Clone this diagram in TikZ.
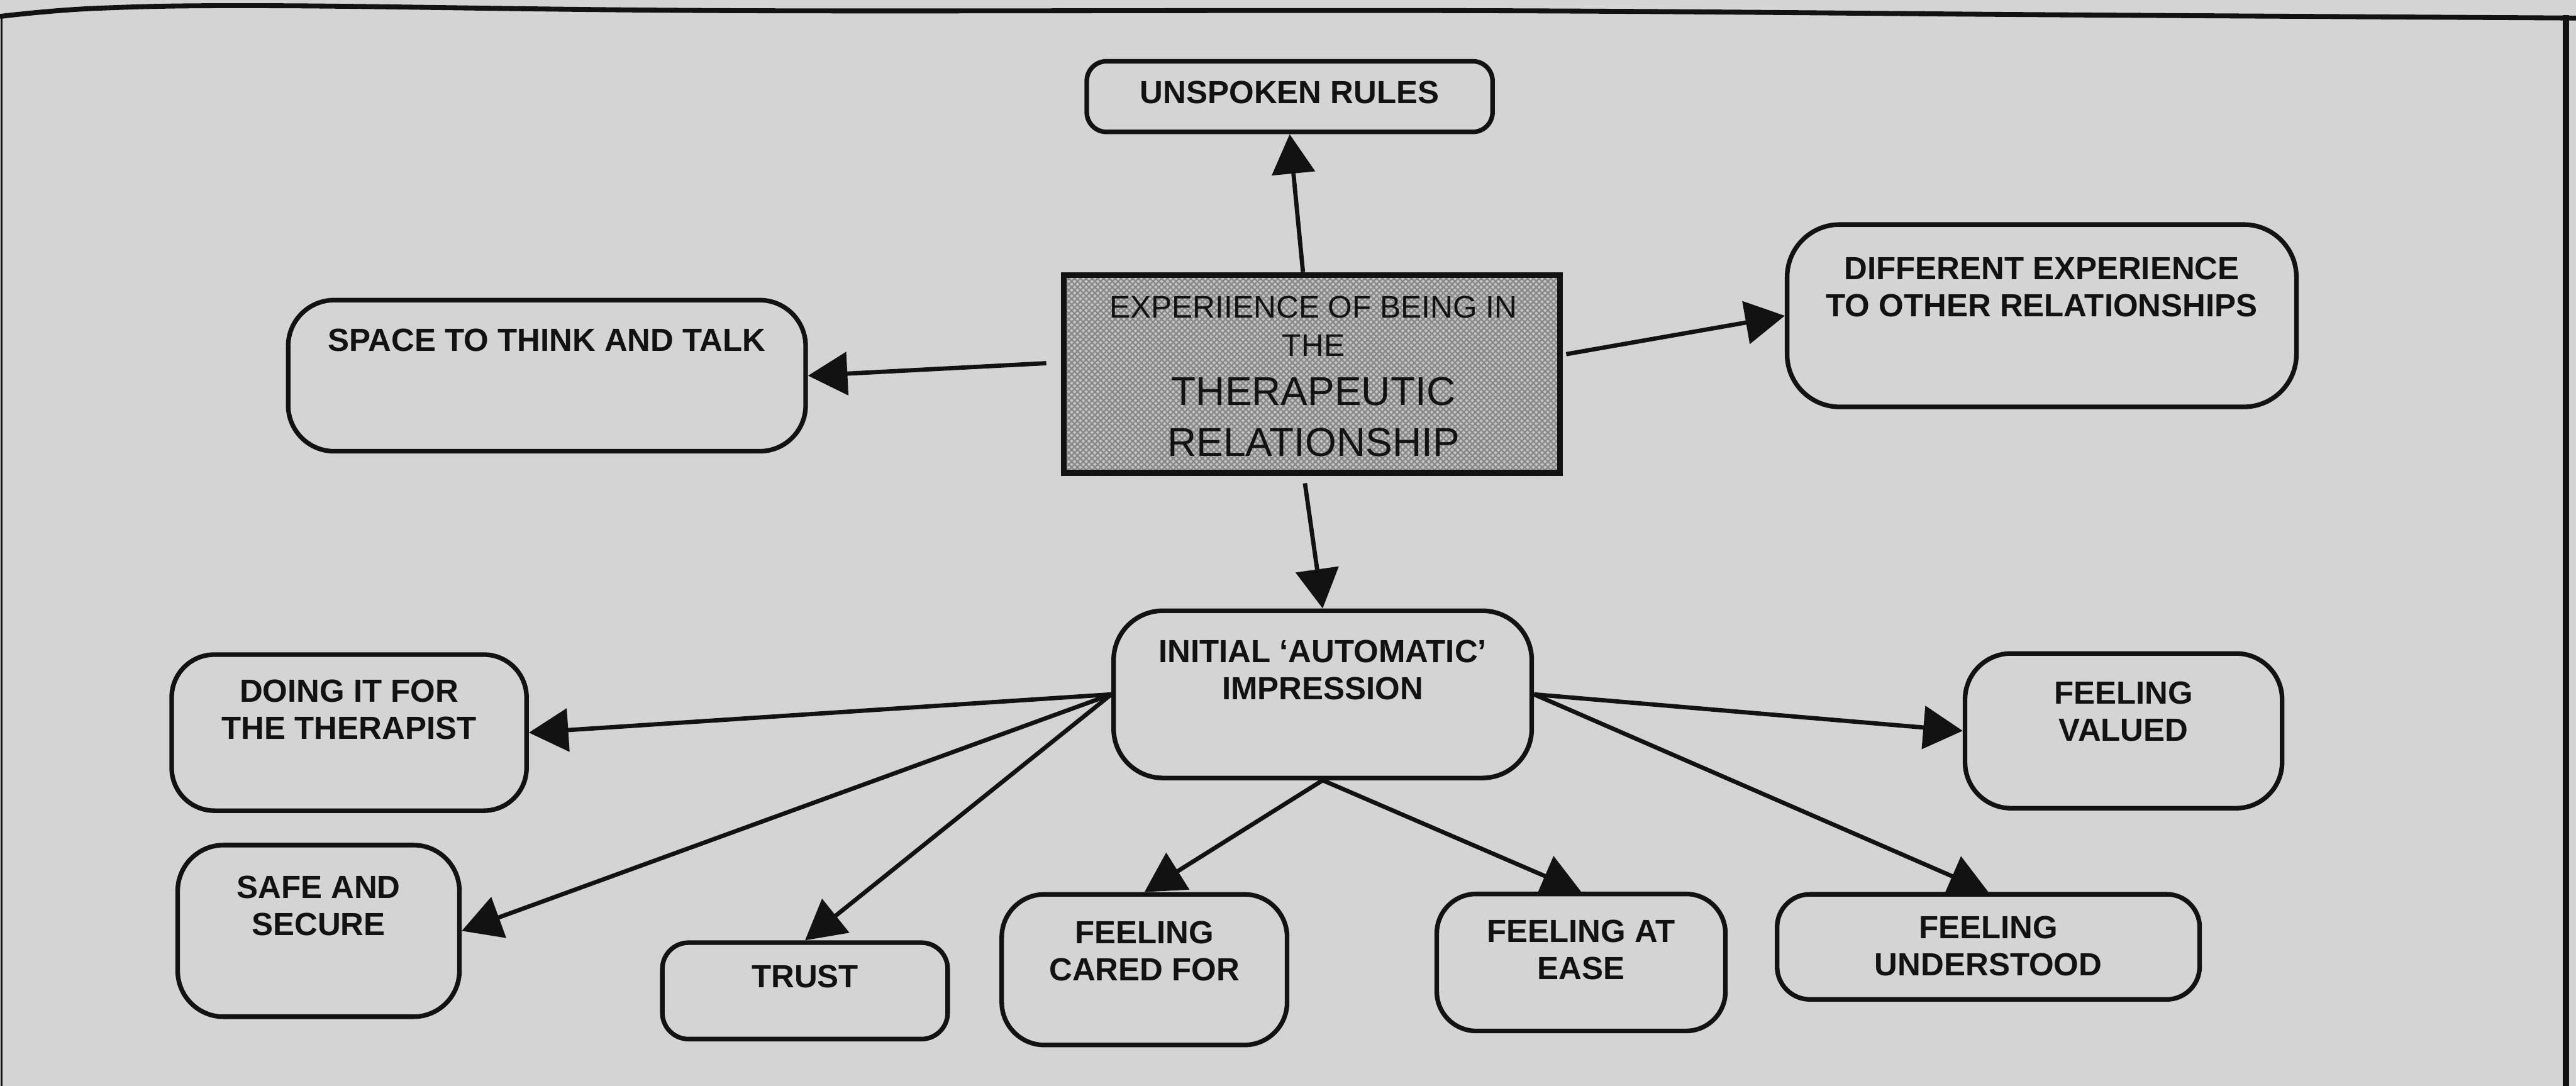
\documentclass[tikz,border=0pt]{standalone}
\usepackage{fontspec}
\setmainfont{Liberation Sans}
\usetikzlibrary{arrows.meta,calc,patterns.meta}

\definecolor{paper}{RGB}{212,212,212}
\definecolor{ink}{RGB}{18,18,18}
\definecolor{hatchbase}{RGB}{196,196,196}
\definecolor{hatchline}{RGB}{136,136,136}

\begin{document}
\begin{tikzpicture}[x=1pt,y=-1pt,
  bubble/.style={draw=ink, line width=2.8pt, rounded corners=#1, inner sep=0pt},
  bubble/.default=24pt,
  caption/.style={anchor=north, inner sep=0pt, align=center, text=ink,
    font=\bfseries\fontsize{19.5}{22.6}\selectfont},
  coretext/.style={anchor=north, inner sep=0pt, align=center, text=ink},
  link/.style={draw=ink, line width=2.6pt, -{Triangle[length=24pt,width=26pt]}},
  hatched/.style={draw=ink, line width=3.5pt, inner sep=0pt,
    preaction={fill=hatchbase},
    preaction={pattern={Lines[angle=45,distance=2.5pt,line width=0.9pt]}, pattern color=hatchline},
    preaction={pattern={Lines[angle=-45,distance=2.5pt,line width=0.9pt]}, pattern color=hatchline}},
]

% page and frame
\useasboundingbox (0,0) rectangle (1568,661);
\fill[paper] (0,0) rectangle (1568,661);
\draw[ink, line width=1pt] (1,9) -- (1,661);
\draw[ink, line width=3.6pt] (1561.8,9) -- (1561.8,661);
\draw[ink, line width=3pt] plot[smooth, tension=0.6] coordinates
  {(0,10) (60,5) (170,3.5) (450,6.5) (900,6.5) (1250,9) (1568,11)};

% central concept
\node[hatched, minimum width=302pt, minimum height=120.5pt] (core) at (798.6,227.6) {};
\node[coretext, font=\fontsize{19}{23.3}\selectfont] (coreupper) at (799.5,180) {EXPERIIENCE OF BEING IN\\THE};
\node[coretext, font=\fontsize{24.5}{31}\selectfont] (corelower) at (799.5,229.5) {THERAPEUTIC\\RELATIONSHIP};

% first-level themes
\node[bubble=12pt, minimum width=247pt, minimum height=43pt] (unspoken) at (785,58.8) {};
\node[caption] (unspokentext) at ([yshift=-13.3pt]unspoken.north) {UNSPOKEN RULES};

\node[bubble=28pt, minimum width=315pt, minimum height=92pt] (space) at (332.9,228.7) {};
\node[caption] (spacetext) at ([yshift=-18.8pt]space.north) {SPACE TO THINK AND TALK};

\node[bubble=32pt, minimum width=310pt, minimum height=111pt] (different) at (1242.8,192.2) {};
\node[caption] (differenttext) at ([yshift=-21.2pt]different.north) {DIFFERENT EXPERIENCE\\TO OTHER RELATIONSHIPS};

\node[bubble=30pt, minimum width=254.5pt, minimum height=101.8pt] (initial) at (805.1,422.7) {};
\node[caption] (initialtext) at ([yshift=-19pt]initial.north) {INITIAL ‘AUTOMATIC’\\IMPRESSION};

% second-level themes
\node[bubble=26pt, minimum width=216pt, minimum height=95pt] (doing) at (212.5,446) {};
\node[caption] (doingtext) at ([yshift=-16.5pt]doing.north) {DOING IT FOR\\THE THERAPIST};

\node[bubble=28pt, minimum width=171.5pt, minimum height=104.5pt] (safe) at (193.9,566.7) {};
\node[caption] (safetext) at ([yshift=-19.9pt]safe.north) {SAFE AND\\SECURE};

\node[bubble=16pt, minimum width=173.7pt, minimum height=58.7pt] (trust) at (490,603.2) {};
\node[caption] (trusttext) at ([yshift=-15.1pt]trust.north) {TRUST};

\node[bubble=26pt, minimum width=173.7pt, minimum height=91.7pt] (cared) at (696.6,590.3) {};
\node[caption] (caredtext) at ([yshift=-17.7pt]cared.north) {FEELING\\CARED FOR};

\node[bubble=24pt, minimum width=175.7pt, minimum height=83.4pt] (ease) at (962.4,585.9) {};
\node[caption] (easetext) at ([yshift=-16.9pt]ease.north) {FEELING AT\\EASE};

\node[bubble=20pt, minimum width=257.2pt, minimum height=64pt] (understood) at (1210.3,576.4) {};
\node[caption] (understoodtext) at ([yshift=-14.7pt]understood.north) {FEELING\\UNDERSTOOD};

\node[bubble=28pt, minimum width=193pt, minimum height=94.2pt] (valued) at (1292.6,444.9) {};
\node[caption] (valuedtext) at ([yshift=-18.4pt]valued.north) {FEELING\\VALUED};

% connectors from the central concept
\draw[link] ($(core.north)+(-5.5,0)$) -- (unspoken.south);
\draw[link] ($(core.west)+(-9,-6.5)$) -- (space.east);
\draw[link] ($(core.east)+(2,-12)$) -- (different.west);
\draw[link] ($(core.south)+(-4.3,4.6)$) -- (initial.north);

% connectors from the initial impression
\draw[link] (initial.west) -- (doing.east);
\draw[link] (initial.west) -- (safe.east);
\draw[link] (initial.west) -- (trust.north);
\draw[link] (initial.south) -- (cared.north);
\draw[link] (initial.south) -- (ease.north);
\draw[link] (initial.east) -- (valued.west);
\draw[link] (initial.east) -- (understood.north);

\end{tikzpicture}
\end{document}
